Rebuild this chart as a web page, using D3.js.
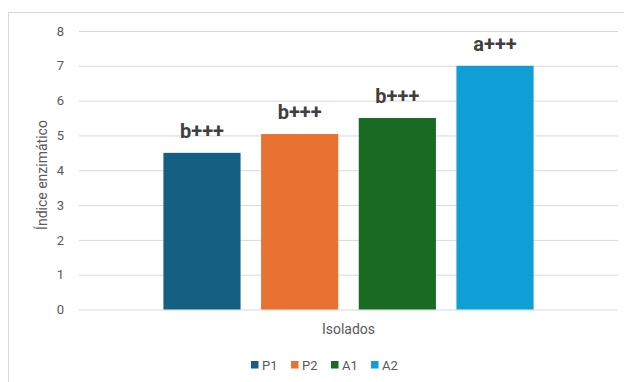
<!DOCTYPE html>
<html>
<head>
<meta charset="utf-8">
<script src="https://cdn.jsdelivr.net/npm/d3@7"></script>
<style>
  body { margin: 0; background: #fff; }
  text { font-family: Roboto, "Liberation Sans", sans-serif; }
</style>
</head>
<body>
<div id="chart"></div>
<script>
// data ---------------------------------------------------------------
const category = ["Isolados"];
const series = ["P1", "P2", "A1", "A2"];
const values = [4.5, 5.04, 5.5, 7.0];
const labels = ["b+++", "b+++", "b+++", "a+++"];
const colors = ["#156082", "#E97132", "#196B24", "#0F9ED5"];
const yTicks = [0, 1, 2, 3, 4, 5, 6, 7, 8];

const W = 624, H = 382;
const svg = d3.select("#chart").append("svg").attr("width", W).attr("height", H);

// ----- chart frame -------
svg.append("rect")
  .attr("x", 8.5)
  .attr("y", 12.5)
  .attr("width", W + 10)
  .attr("height", H + 10)
  .attr("fill", "white")
  .attr("stroke", "#d9d9d9");

// ----- scales -------
const y = d3.scaleLinear().domain([0, 8]).range([309.5, 31]);
const x0 = d3.scaleBand().domain(category).range([79, 618]).paddingInner(0).paddingOuter(0.228);
const x1 = d3.scaleBand().domain(series).range([0, x0.bandwidth()]).paddingInner(0.21).paddingOuter(0);

// ----- gridlines + y tick labels -------
const yAxis = svg.append("g")
  .attr("transform", "translate(79,0)")
  .call(d3.axisLeft(y).tickValues(yTicks).tickSize(-539).tickPadding(15));
yAxis.select(".domain").remove();
yAxis.selectAll(".tick line").attr("stroke", "#d9d9d9").attr("stroke-width", 1);
yAxis.selectAll(".tick text")
  .attr("fill", "#595959")
  .style("font-size", "13px")
  .style("font-family", "Roboto, sans-serif");

// ----- bars -------
const grp = svg.append("g").attr("transform", `translate(${x0("Isolados")},0)`);

grp.selectAll("rect")
  .data(series)
  .join("rect")
  .attr("x", d => x1(d))
  .attr("y", (d, i) => y(values[i]))
  .attr("width", x1.bandwidth())
  .attr("height", (d, i) => y(0) - y(values[i]))
  .attr("fill", (d, i) => colors[i]);

grp.selectAll("text.lbl")
  .data(series)
  .join("text")
  .attr("class", "lbl")
  .attr("x", d => x1(d) + x1.bandwidth() / 2)
  .attr("y", (d, i) => y(values[i]) - 15)
  .attr("text-anchor", "middle")
  .attr("fill", "#404040")
  .style("font-size", "20px")
  .style("font-weight", "bold")
  .text((d, i) => labels[i]);

// ----- axis titles -------
svg.append("text")
  .attr("x", x0("Isolados") + x0.bandwidth() / 2)
  .attr("y", 334)
  .attr("text-anchor", "middle")
  .attr("fill", "#595959")
  .style("font-size", "14px")
  .text("Isolados");

svg.append("text")
  .attr("transform", "translate(47,175) rotate(-90)")
  .attr("text-anchor", "middle")
  .attr("fill", "#595959")
  .style("font-size", "14px")
  .text("Índice enzimático");

// ----- legend -------
const legend = svg.append("g").attr("transform", "translate(251,365)");
const item = legend.selectAll("g")
  .data(series)
  .join("g")
  .attr("transform", (d, i) => `translate(${i * 40},0)`);

item.append("rect")
  .attr("x", 0)
  .attr("y", -4)
  .attr("width", 7.5)
  .attr("height", 7.5)
  .attr("fill", (d, i) => colors[i]);

item.append("text")
  .attr("x", 11)
  .attr("y", 4.5)
  .attr("fill", "#595959")
  .style("font-size", "13px")
  .text(d => d);
</script>
</body>
</html>
